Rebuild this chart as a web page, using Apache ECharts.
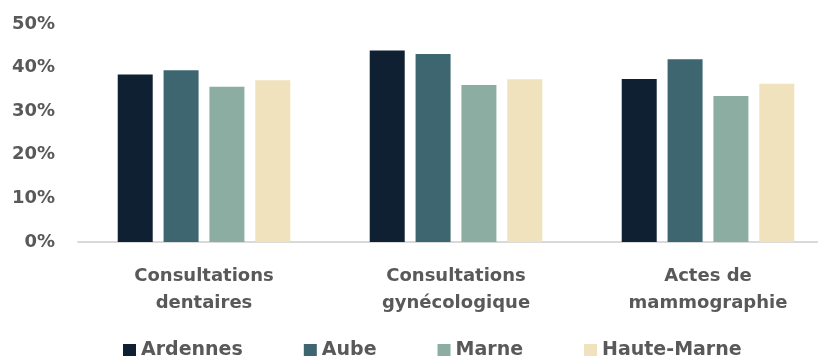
<!DOCTYPE html>
<html>
<head>
<meta charset="utf-8">
<script src="https://cdn.jsdelivr.net/npm/echarts@6/dist/echarts.min.js"></script>
<style>
  html, body { margin: 0; padding: 0; background: #ffffff; overflow: hidden; width: 818px; height: 356px; }
  /* the plot runs a little past the right edge of the page */
  #chart { width: 834px; height: 356px; }
</style>
</head>
<body>
<div id="chart"></div>
<script>
// Share of people using each type of care, by département (%)
const categories = ['Consultations\ndentaires', 'Consultations\ngynécologique', 'Actes de\nmammographie'];
const seriesNames = ['Ardennes', 'Aube', 'Marne', 'Haute-Marne'];
const ardennes = [38.4, 43.9, 37.4];
const aube = [39.4, 43.1, 41.9];
const marne = [35.6, 36.0, 33.5];
const hauteMarne = [37.1, 37.3, 36.3];
const yTicks = [0, 10, 20, 30, 40, 50];

const palette = ['#0f2033', '#3d6670', '#8cada2', '#efe2bd'];
const values = [ardennes, aube, marne, hauteMarne];
const textColor = '#595959';
const font = 'DejaVu Sans';

const chart = echarts.init(document.getElementById('chart'), null, { renderer: 'canvas' });

chart.setOption({
  animation: false,
  backgroundColor: '#ffffff',
  color: palette,
  grid: { left: 78, top: 24, right: 0, bottom: 114, containLabel: false },
  legend: {
    left: 118,
    top: 336,
    itemWidth: 13,
    itemHeight: 13,
    itemGap: 61,
    icon: 'rect',
    textStyle: { color: textColor, fontFamily: font, fontWeight: 'bold', fontSize: 19 },
    data: seriesNames
  },
  xAxis: {
    type: 'category',
    data: categories,
    axisLine: { lineStyle: { color: '#d9d9d9', width: 2 } },
    axisTick: { show: false },
    axisLabel: {
      color: textColor,
      fontFamily: font,
      fontWeight: 'bold',
      fontSize: 18,
      lineHeight: 27,
      margin: 21,
      interval: 0
    }
  },
  yAxis: {
    type: 'value',
    min: yTicks[0],
    max: yTicks[yTicks.length - 1],
    interval: yTicks[1] - yTicks[0],
    splitLine: { show: false },
    axisLine: { show: false },
    axisTick: { show: false },
    axisLabel: {
      formatter: '{value}%',
      color: textColor,
      fontFamily: font,
      fontWeight: 'bold',
      fontSize: 18,
      margin: 23
    }
  },
  series: seriesNames.map((name, i) => ({
    name: name,
    type: 'bar',
    data: values[i],
    barWidth: 35,
    barGap: '31%',
    itemStyle: { color: palette[i] }
  }))
});
</script>
</body>
</html>
